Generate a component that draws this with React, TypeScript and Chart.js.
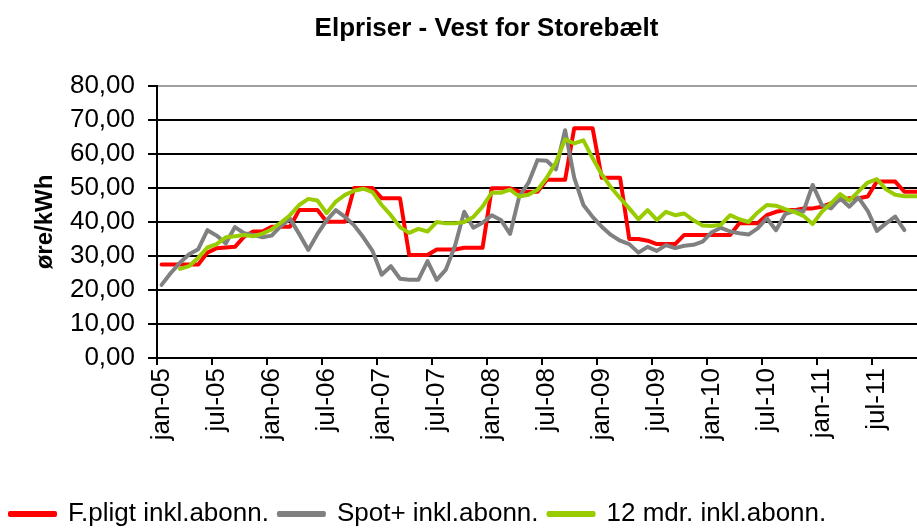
import React, { useEffect, useRef } from 'react';
import { Chart, registerables } from 'chart.js';

Chart.register(...registerables);

// ---- data ----
const MONTHS = ['jan', 'feb', 'mar', 'apr', 'maj', 'jun', 'jul', 'aug', 'sep', 'okt', 'nov', 'dec'];
const YEARS = ['05', '06', '07', '08', '09', '10', '11'];
const CATEGORIES: string[] = YEARS.flatMap((y) => MONTHS.map((m) => `${m}-${y}`));

const FPLIGT: (number | null)[] = [
  27.5, 27.5, 27.5, 27.5, 27.5, 31, 32.3, 32.5, 32.7, 35.7, 37.2, 37.2,
  38.6, 38.6, 38.6, 43.5, 43.5, 43.5, 40.1, 40.1, 40.1, 50, 50, 50,
  47, 47, 47, 30.3, 30.3, 30.3, 31.9, 31.9, 31.9, 32.4, 32.4, 32.4,
  49.9, 49.9, 49.9, 48.9, 48.9, 48.9, 52.4, 52.4, 52.4, 67.6, 67.6, 67.6,
  53, 53, 53, 35, 35, 34.5, 33.5, 33.5, 33.5, 36.2, 36.2, 36.2,
  36.2, 36.2, 36.2, 39.6, 39.6, 39.6, 42, 43, 43.5, 43.5, 44, 44,
  44.5, 45.5, 46.5, 47, 47, 47.5, 51.9, 51.9, 51.9, 48.9, 48.9, 48.9,
];

const SPOT: (number | null)[] = [
  21.5, 25, 28, 30.5, 32, 37.6, 36, 33.7, 38.5, 36.7, 36.2, 35.5,
  36, 38.8, 41, 36.5, 31.8, 36.5, 40.5, 43.5, 41.5, 39, 35.5, 31.5,
  24.5, 27, 23.3, 23, 23, 28.5, 23, 26, 33, 43, 38.3, 39.8,
  42, 40.6, 36.5, 47.5, 51.5, 58.2, 58, 55.5, 67, 53, 45, 41.5,
  38.6, 36.2, 34.5, 33.5, 31, 32.7, 31.5, 33.2, 32.3, 33, 33.3, 34.2,
  37, 38.3, 37.2, 36.7, 36.3, 38.1, 41.1, 37.6, 42.3, 43.3, 43.1, 50.9,
  45, 44, 47, 44.5, 47.2, 43.3, 37.4, 39.6, 41.6, 37.6, null, null,
];

const MDR12: (number | null)[] = [
  null, null, 26.2, 27, 29.5, 32.5, 33.5, 35.5, 35.8, 36.2, 35.8, 36.6,
  37.8, 39.8, 42, 45, 46.8, 46.3, 42.6, 46, 48, 49.2, 49.8, 48.8,
  45, 42, 38.5, 36.8, 38, 37.2, 40, 39.6, 39.6, 40, 41.5, 44.5,
  48.6, 48.6, 49.5, 47.5, 48, 49.5, 53, 57.5, 64.3, 63.1, 64, 58.8,
  54, 50.2, 47, 44, 40.8, 43.5, 40.6, 43, 42, 42.5, 40.5, 39,
  38.8, 39.2, 42, 40.8, 40, 42.8, 45, 44.8, 43.8, 43, 41.8, 39.4,
  43, 45.5, 48.2, 46.3, 49, 51.6, 52.6, 49.6, 48, 47.6, 47.6, 47.6,
];

const Y_MIN = 0;
const Y_MAX = 80;
const Y_STEP = 10;

// ---- layout ----
const W = 973;
const H = 537;
const PLOT_LEFT = 157;
const PLOT_RIGHT = 927.3;
const PLOT_BOTTOM = 358;
const FONT = 'Arial, "Liberation Sans", Helvetica, sans-serif';

export default function App() {
  const canvasRef = useRef<HTMLCanvasElement | null>(null);

  useEffect(() => {
    if (!canvasRef.current) return;
    const chart = new Chart(canvasRef.current, {
      type: 'line',
      data: {
        labels: CATEGORIES,
        datasets: [
          {
            label: 'F.pligt inkl.abonn.',
            data: FPLIGT,
            borderColor: '#ff0000',
            backgroundColor: '#ff0000',
            borderWidth: 4,
            pointRadius: 0,
            tension: 0,
            borderJoinStyle: 'round',
            borderCapStyle: 'round',
            order: 3,
          },
          {
            label: 'Spot+ inkl.abonn.',
            data: SPOT,
            borderColor: '#808080',
            backgroundColor: '#808080',
            borderWidth: 4,
            pointRadius: 0,
            tension: 0,
            borderJoinStyle: 'round',
            borderCapStyle: 'round',
            order: 2,
          },
          {
            label: '12 mdr. inkl.abonn.',
            data: MDR12,
            borderColor: '#99cc00',
            backgroundColor: '#99cc00',
            borderWidth: 4,
            pointRadius: 0,
            tension: 0,
            borderJoinStyle: 'round',
            borderCapStyle: 'round',
            order: 1,
          },
        ],
      },
      options: {
        animation: false,
        responsive: false,
        devicePixelRatio: 1,
        layout: { padding: 0 },
        plugins: {
          title: {
            display: true,
            text: 'Elpriser - Vest for Storebælt',
            color: '#000',
            font: { family: FONT, size: 26, weight: 'bold' },
            padding: { top: 13, bottom: 41.8 },
          },
          legend: {
            position: 'bottom',
            align: 'start',
            labels: {
              boxWidth: 45,
              boxHeight: 2,
              padding: 10,
              color: '#000',
              font: { family: FONT, size: 26 },
              sort: (a: any, b: any) => a.datasetIndex - b.datasetIndex,
            },
          },
          tooltip: { enabled: false },
        },
        scales: {
          x: {
            type: 'category',
            offset: true,
            grid: {
              display: true,
              offset: true,
              drawOnChartArea: false,
              drawTicks: true,
              tickLength: 7,
              lineWidth: 2,
              color: (ctx: any) => (ctx.index % 6 === 0 ? '#000' : 'rgba(0,0,0,0)'),
            },
            border: { display: true, color: '#000', width: 2 },
            ticks: {
              autoSkip: false,
              maxRotation: 90,
              minRotation: 90,
              padding: 3,
              color: '#000',
              font: { family: FONT, size: 26 },
              callback: (_v: any, index: number) => (index % 6 === 0 ? CATEGORIES[index] : ''),
            },
            afterFit: (scale: any) => {
              const lh = scale.chart.legend ? scale.chart.legend.height : 46;
              scale.height = H - PLOT_BOTTOM - lh;
            },
          },
          y: {
            type: 'linear',
            position: 'left',
            min: Y_MIN,
            max: Y_MAX,
            grid: {
              color: (ctx: any) => (ctx.tick && ctx.tick.value === Y_MAX ? '#a0a0a0' : '#000'),
              tickColor: '#000',
              lineWidth: 2,
              tickLength: 9,
              drawTicks: true,
            },
            border: { display: true, color: '#000', width: 2 },
            ticks: {
              stepSize: Y_STEP,
              autoSkip: false,
              padding: 13,
              color: '#000',
              font: { family: FONT, size: 26 },
              callback: (v: any) => Number(v).toFixed(2).replace('.', ','),
            },
            title: {
              display: true,
              text: 'øre/kWh',
              color: '#000',
              font: { family: FONT, size: 24, weight: 'bold' },
              padding: { top: 31, bottom: 0 },
            },
            afterFit: (scale: any) => {
              scale.width = PLOT_LEFT;
            },
          },
          yR: {
            type: 'linear',
            position: 'right',
            display: true,
            grid: { display: false },
            ticks: { display: false },
            border: { display: false },
            afterFit: (scale: any) => {
              scale.width = W - PLOT_RIGHT;
            },
          },
        },
      } as any,
    });
    return () => chart.destroy();
  }, []);

  return (
    <div
      style={{
        position: 'fixed',
        left: 0,
        top: 0,
        width: 917,
        height: 530,
        overflow: 'hidden',
        background: '#fff',
      }}
    >
      <canvas ref={canvasRef} width={W} height={H} style={{ display: 'block' }} />
    </div>
  );
}
